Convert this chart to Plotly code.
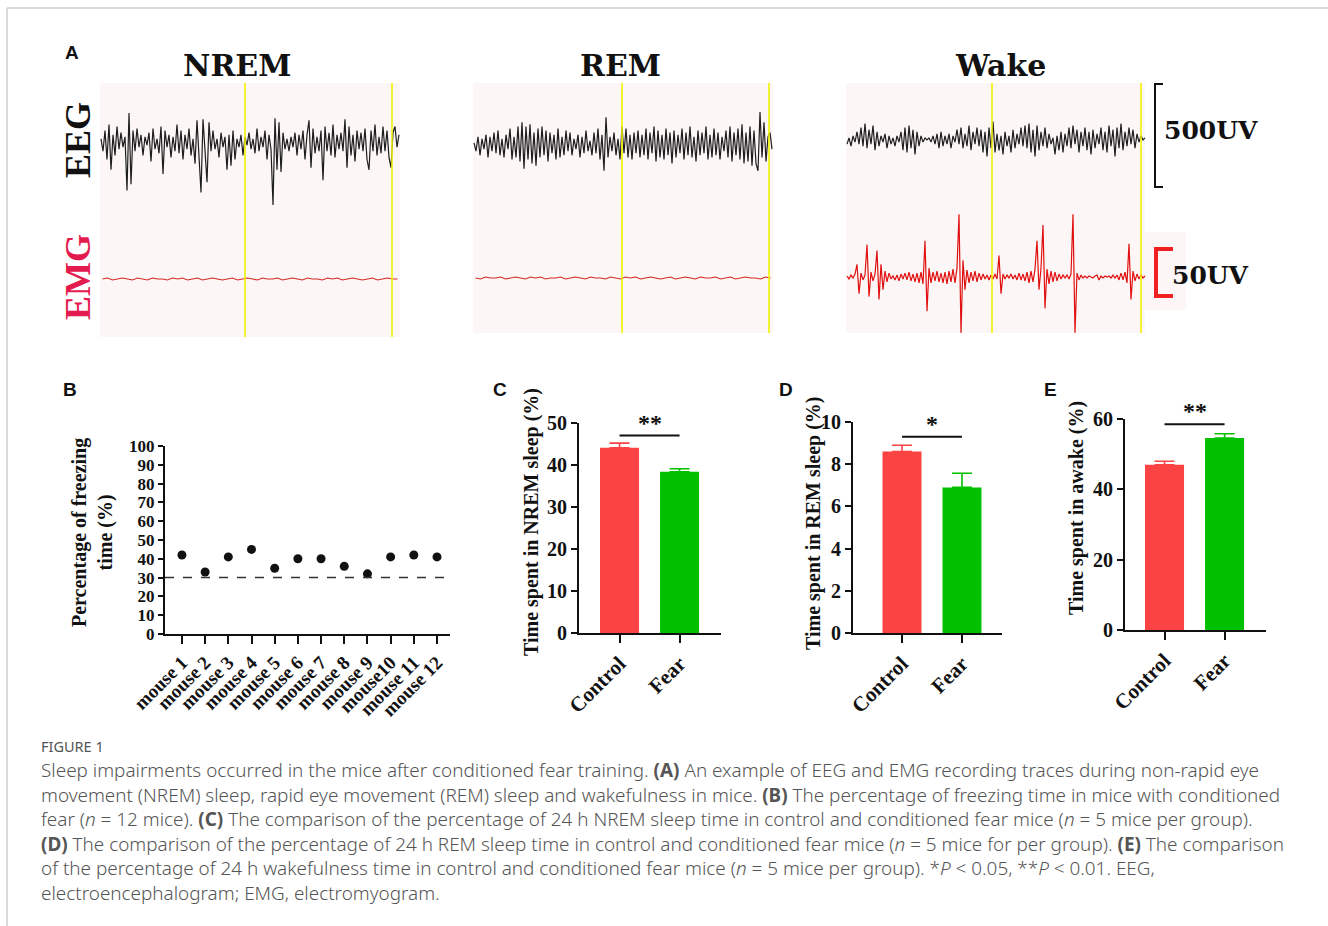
import plotly.graph_objects as go

W, H = 1328, 926

def fx(p):
    return p / W

def fy(p):
    return 1 - p / H

# ---------------- DATA ----------------
states = ["NREM", "REM", "Wake"]

eeg_nrem = [20, -40, 60, -80, 90, -130, 40, -60, 80, -30,
            50, -20, 30, -230, 145, -200, 60, -40, 70, -20,
            40, -60, 30, -10, 50, -90, 70, -30, 20, -50,
            80, -150, 60, -20, 40, -70, 30, -40, 90, -50,
            60, -80, 40, -30, 70, -60, 20, -100, 110, -90,
            -240, 115, -50, -190, 100, -40, 60, -30, 20, -70,
            50, -20, 30, -130, 40, -110, 60, -80, 20, -20,
            40, -60, 30, -10, 50, -30, 20, -50, 70, -40,
            30, -20, 60, -80, 40, -30, -300, 120, -130, 100,
            -140, 50, -30, 20, -40, 30, -20, 50, -60, 40,
            -30, 60, -80, 40, 110, -120, 70, -50, 30, -40,
            60, -180, 80, -40, 50, -60, 90, -70, 40, -30,
            50, -40, 115, -120, 80, -60, 40, -90, 60, -30,
            50, -40, 70, -80, -130, 60, -40, 90, -60, 30,
            -50, 80, -40, 60, -70, -120, 50, 80, -20, 40]

eeg_rem = [10, -30, 40, -50, 30, -20, 50, -60, 40, -30,
           60, -40, 70, -50, 30, -60, 50, -20, 80, -70,
           40, -60, 90, -80, 110, -115, 90, -70, 100, -90,
           60, -100, 80, -60, 90, -50, 70, -80, 60, -40,
           50, -70, 80, -60, 40, -50, 70, -30, 60, -50,
           30, -20, 50, -60, 40, -40, 70, -30, 20, -50,
           60, -40, 80, -70, 50, -125, 135, -60, 40, -30,
           60, -50, 30, -70, 90, -40, 80, -60, 50, -70,
           60, -40, 70, -60, 50, -50, 80, -70, 60, -40,
           90, -80, 70, -60, 50, -70, 80, -50, 60, -90,
           70, -60, 50, -40, 80, -70, 60, -50, 90, -60,
           40, -80, 70, -50, 60, -40, 90, -70, 50, -60,
           80, -50, 60, -70, 40, -30, 70, -60, 90, -80,
           60, -50, 80, -70, 100, -90, 60, -80, 90, -100,
           70, -90, -125, 160, -60, 110, -80, 40, 60, -20]

eeg_wake = [-20, 10, -30, 20, -10, 40, -20, 60, -30, 80,
            -40, 50, -20, 70, -50, 40, -30, 20, -10, 30,
            -40, 20, -20, 10, -30, 20, -10, 40, -50, 60,
            -60, 70, -40, 50, -70, 40, -30, 20, -10, 10,
            0, 10, -10, 20, -20, 30, -40, 40, -30, 20,
            -20, 30, -40, 20, -10, 50, -20, 60, -40, 30,
            -30, 70, -50, 40, -20, 60, -30, 50, -60, 40,
            -80, 60, -40, 90, -60, 30, -50, 20, -70, 40,
            -30, 20, -60, 50, -40, 30, -20, 60, -30, 70,
            -40, 80, -60, 50, -80, 70, -50, 40, -30, 60,
            -40, 30, -20, 10, -70, 20, -50, 40, -60, 30,
            -30, 60, -40, 70, -20, 50, -60, 40, -30, 60,
            -50, 40, -70, 50, -40, 30, -20, 60, -50, 40,
            -60, 70, -30, 50, -80, 60, -40, 80, -50, 40,
            -30, 60, -20, 50, -40, 30, -10, 20, 0, 10]

emg_nrem = [0, 1, -1, 0, 1, 0, -1, 1, 0, -1, 1, 0, 0, -1, 1, 0, 1, -1, 0, 1,
            -1, 0, 1, 0, -1, 0, 1, -1, 0, 1, 0, -1, 1, 0, 0, 1, -1, 0, 1, 0,
            -1, 1, 0, 0, -1, 1, 0, 1, -1, 0, 1, 0, -1, 0, 1, -1, 0, 1, 0, 0]

emg_rem = [0, -1, 1, 0, 0, 1, -1, 0, 1, 0, -1, 1, 0, 1, -1, 0, 0, 1, -1, 0,
           1, 0, -1, 1, 0, 0, -1, 1, 0, -1, 1, 0, 1, -1, 0, 1, 0, -1, 0, 1,
           -1, 0, 1, 0, -1, 1, 0, 0, 1, -1, 0, 1, -1, 0, 1, 0, 0, -1, 1, 0]

emg_wake = [1, -2, 2, -1, 3, 13, -17, 4, -3, 2,
            33, -20, 5, -4, 3, 27, -23, 13, -13, 6,
            -5, 4, -2, 1, -3, 2, -4, 3, -2, 4,
            -3, 5, -4, 3, -5, 4, -6, 5, -7, 37,
            -35, 9, -6, 5, -4, 6, -5, 4, -6, 5,
            -7, 6, -5, 8, -6, 9, 64, -57, 17, -13,
            7, -6, 5, -4, 6, -5, 4, -3, 3, -2,
            2, -3, 2, -2, 3, -2, 22, -17, 3, -2,
            2, -1, 3, -2, 2, -3, 4, -3, 3, -4,
            5, -6, 6, -5, 8, 37, -13, 9, 53, -32,
            8, -7, 6, -5, 5, -4, 3, -2, 2, -1,
            2, -2, 3, 64, -57, 4, -3, 2, -1, 1,
            -1, 1, 0, -1, 1, 2, -3, 1, -1, 1,
            0, 1, -1, 2, -1, 2, -3, 4, -3, 5,
            -6, 34, -23, 6, -4, 3, -2, 2, -1, 1]

yellow_marks = {"NREM": [72, 145.5], "REM": [74, 147.5], "Wake": [72.5, 147]}

mice = ["mouse 1", "mouse 2", "mouse 3", "mouse 4", "mouse 5", "mouse 6",
        "mouse 7", "mouse 8", "mouse 9", "mouse10", "mouse 11", "mouse 12"]
freezing = [42, 33, 41, 45, 35, 40, 40, 36, 32, 41, 42, 41]
freezing_threshold = 30

groups = ["Control", "Fear"]
nrem_mean = [44.1, 38.4]
nrem_err = [1.1, 0.7]
rem_mean = [8.6, 6.9]
rem_err = [0.3, 0.67]
wake_mean = [47.0, 54.6]
wake_err = [1.0, 1.2]
sig_y = [47.0, 9.3, 58.5]
sig_text = ["**", "*", "**"]

caption_lines = [
    "Sleep impairments occurred in the mice after conditioned fear training. <b>(A)</b> An example of EEG and EMG recording traces during non-rapid eye",
    "movement (NREM) sleep, rapid eye movement (REM) sleep and wakefulness in mice. <b>(B)</b> The percentage of freezing time in mice with conditioned",
    "fear (<i>n</i> = 12 mice). <b>(C)</b> The comparison of the percentage of 24 h NREM sleep time in control and conditioned fear mice (<i>n</i> = 5 mice per group).",
    "<b>(D)</b> The comparison of the percentage of 24 h REM sleep time in control and conditioned fear mice (<i>n</i> = 5 mice for per group). <b>(E)</b> The comparison",
    "of the percentage of 24 h wakefulness time in control and conditioned fear mice (<i>n</i> = 5 mice per group). *<i>P</i> &lt; 0.05, **<i>P</i> &lt; 0.01. EEG,",
    "electroencephalogram; EMG, electromyogram.",
]

# ---------------- STYLE ----------------
SERIF = "Liberation Serif"
WIDE_SERIF = "DejaVu Serif"
SANS = "Liberation Sans"
CAP_FONT = "Noto Sans"
RED = "#fb4343"
GREEN = "#00c000"
EMG_RED = "#e01010"
PANEL_BG = "#fcf7f6"
YELLOW = "#f2f200"

fig = go.Figure()
layout = dict(
    width=W, height=H,
    margin=dict(l=0, r=0, t=0, b=0),
    paper_bgcolor="white", plot_bgcolor="rgba(0,0,0,0)",
    showlegend=False, template="none",
)
shapes = []
annotations = []


def set_axes(n, xdom, ydom, xkw, ykw):
    sx = "" if n == 1 else str(n)
    layout["xaxis" + sx] = dict(domain=[fx(xdom[0]), fx(xdom[1])], anchor="y" + sx, **xkw)
    layout["yaxis" + sx] = dict(domain=[fy(ydom[1]), fy(ydom[0])], anchor="x" + sx, **ykw)
    return ("x" + sx, "y" + sx)


def label(text, x, y, size, family, color="#111", angle=0, xanchor="center", weight=None):
    font = dict(family=family, size=size, color=color)
    if weight:
        font["weight"] = weight
    annotations.append(dict(text=text, x=fx(x), y=fy(y), xref="paper", yref="paper", showarrow=False,
                            textangle=angle, xanchor=xanchor, yanchor="middle", align="left", font=font))


hidden = dict(visible=False, showgrid=False, zeroline=False, fixedrange=True)

# ---- Panel A ----
eeg_data = [eeg_nrem, eeg_rem, eeg_wake]
emg_data = [emg_nrem, emg_rem, emg_wake]
col_x = [(100, 400), (473, 773), (846, 1146)]
eeg_center = [143, 145, 140]
emg_base = [279, 278, 277]
title_x = [237, 620, 1000]
eeg_half = 320
emg_rng = (-60, 70)
px_per_uv_emg = 0.98

for k in range(3):
    x0, x1 = col_x[k]
    bottom = 337 if k == 0 else 333
    shapes.append(dict(type="rect", xref="paper", yref="paper", layer="below",
                       x0=fx(x0), x1=fx(x1 - 1 if k == 2 else x1), y0=fy(bottom), y1=fy(83),
                       fillcolor=PANEL_BG, line=dict(width=0)))
    c = eeg_center[k]
    xa, ya = set_axes(k + 1, (x0, x1), (c - 66, c + 66),
                      dict(range=[-0.5, len(eeg_data[k]) - 0.5], **hidden),
                      dict(range=[-eeg_half, eeg_half], **hidden))
    fig.add_trace(go.Scatter(x=list(range(len(eeg_data[k]))), y=eeg_data[k], mode="lines",
                             line=dict(color="#1e1e1e", width=1.2), xaxis=xa, yaxis=ya,
                             hoverinfo="skip"))
    b = emg_base[k]
    xa2, ya2 = set_axes(k + 4, (x0, x1), (b - emg_rng[1] * px_per_uv_emg, b - emg_rng[0] * px_per_uv_emg),
                        dict(range=[-0.5, len(emg_data[k]) - 0.5], **hidden),
                        dict(range=list(emg_rng), **hidden))
    fig.add_trace(go.Scatter(x=list(range(len(emg_data[k]))), y=emg_data[k], mode="lines",
                             line=dict(color=EMG_RED if k == 2 else "#d42a20", width=1.2),
                             xaxis=xa2, yaxis=ya2, hoverinfo="skip"))
    for m in yellow_marks[states[k]]:
        shapes.append(dict(type="line", xref=xa, yref="paper", x0=m, x1=m,
                           y0=fy(bottom), y1=fy(83),
                           line=dict(color=YELLOW, width=1.6)))
    label("<b>%s</b>" % states[k], title_x[k], 65, 30, WIDE_SERIF)

# scale bars
shapes.append(dict(type="path", xref="paper", yref="paper",
                   path="M %f %f L %f %f L %f %f L %f %f" % (fx(1163), fy(84), fx(1155), fy(84), fx(1155), fy(187), fx(1163), fy(187)),
                   line=dict(color="#111", width=2)))
shapes.append(dict(type="rect", xref="paper", yref="paper", layer="below",
                   x0=fx(1145), x1=fx(1186), y0=fy(310), y1=fy(232), fillcolor=PANEL_BG, line=dict(width=0)))
shapes.append(dict(type="path", xref="paper", yref="paper",
                   path="M %f %f L %f %f L %f %f L %f %f" % (fx(1173), fy(249), fx(1156), fy(249), fx(1156), fy(296), fx(1173), fy(296)),
                   line=dict(color="#f02020", width=4)))
label("<b>500UV</b>", 1162, 130, 25, WIDE_SERIF, xanchor="left")
label("<b>50UV</b>", 1170, 275, 25, WIDE_SERIF, xanchor="left")
label("<b>EEG</b>", 78, 140, 36, SERIF, angle=-90)
label("<b>EMG</b>", 78, 277, 36, SERIF, color="#e31b4f", angle=-90)

# ---- axis style helpers ----
def yax(rng, dt, size=20):
    return dict(range=rng, dtick=dt, tick0=0, showline=True, linecolor="#111", linewidth=2,
                ticks="outside", ticklen=6, tickwidth=2, tickcolor="#111", showgrid=False,
                zeroline=False, tickfont=dict(family=SERIF, size=size, color="#111", weight="bold"),
                fixedrange=True, automargin=False)


def xax(rng, labels, size):
    return dict(range=rng, tickmode="array", tickvals=list(range(len(labels))), ticktext=labels,
                tickangle=-45, showline=True, linecolor="#111", linewidth=2, ticks="outside",
                ticklen=8, tickwidth=2, tickcolor="#111", showgrid=False, zeroline=False,
                tickfont=dict(family=SERIF, size=size, color="#111", weight="bold"),
                fixedrange=True, automargin=False)


# ---- Panel B ----
xb, yb = set_axes(7, (165, 450), (446, 634), xax([-0.73, 11.56], mice, 19), yax([0, 100], 10, size=17))
layout["yaxis7"]["ticklen"] = 5
fig.add_trace(go.Scatter(x=list(range(len(mice))), y=freezing, mode="markers",
                         marker=dict(color="#111", size=9), xaxis=xb, yaxis=yb))
shapes.append(dict(type="line", xref=xb + " domain", yref=yb, x0=0, x1=1, y0=freezing_threshold,
                   y1=freezing_threshold, line=dict(color="#333", width=1.5, dash="dash")))
label("<b>Percentage of freezing<br>time (%)</b>", 92, 533, 20, SERIF, angle=-90)
annotations[-1]["align"] = "center"

# ---- Panels C, D, E ----
bar_panels = [
    (8, (579, 721), (423, 633), [-0.675, 1.69], [0, 50], 10, nrem_mean, nrem_err,
     "Time spent in NREM sleep (%)", 531, 522),
    (9, (853, 1002), (422, 633), [-0.817, 1.667], [0, 10], 2, rem_mean, rem_err,
     "Time spent in REM sleep (%)", 813, 523),
    (10, (1125, 1266), (419, 630), [-0.658, 1.69], [0, 60], 20, wake_mean, wake_err,
     "Time spent in awake (%)", 1076, 508),
]
for j, (n, xd, yd, xr, yr, dt, means, errs, title, tx, ty) in enumerate(bar_panels):
    xa, ya = set_axes(n, xd, yd, xax(xr, groups, 21), yax(yr, dt))
    for g, col in enumerate([RED, GREEN]):
        fig.add_trace(go.Bar(x=[g], y=[means[g]], width=0.65, marker=dict(color=col, line=dict(width=0)),
                             error_y=dict(type="data", array=[errs[g]], arrayminus=[0], symmetric=False,
                                          color=col, thickness=1.6, width=10),
                             xaxis=xa, yaxis=ya))
    fig.add_trace(go.Scatter(x=[0, 1], y=[sig_y[j], sig_y[j]], mode="lines",
                             line=dict(color="#111", width=2), xaxis=xa, yaxis=ya, cliponaxis=False))
    annotations.append(dict(text="<b>%s</b>" % sig_text[j], x=0.5, y=sig_y[j], xref=xa, yref=ya,
                            showarrow=False, xanchor="center", yanchor="bottom", yshift=-2,
                            font=dict(family=SERIF, size=24, color="#111")))
    label("<b>%s</b>" % title, tx, ty, 20, SERIF, angle=-90)

# ---- panel letters ----
for lab, (lx, ly) in {"A": (72, 52), "B": (70, 390), "C": (500, 390), "D": (786, 390), "E": (1050, 390)}.items():
    label("<b>%s</b>" % lab, lx, ly, 19, SANS)

# ---- caption ----
label("FIGURE 1", 39, 746, 14.5, CAP_FONT, color="#555", xanchor="left")
label("<br>".join(caption_lines), 39, 831, 18.9, CAP_FONT, color="#555", xanchor="left", weight=300)

# ---- frame ----
shapes.append(dict(type="line", xref="paper", yref="paper", x0=fx(7), x1=1, y0=fy(8), y1=fy(8),
                   line=dict(color="#cfcfcf", width=1.5)))
shapes.append(dict(type="line", xref="paper", yref="paper", x0=fx(7), x1=fx(7), y0=0, y1=fy(8),
                   line=dict(color="#cfcfcf", width=1.5)))

layout["shapes"] = shapes
layout["annotations"] = annotations
fig.update_layout(**layout)
fig.write_html("out.html", config={"displayModeBar": False},
               post_script="document.body.style.margin='0';document.body.style.overflow='hidden';")
